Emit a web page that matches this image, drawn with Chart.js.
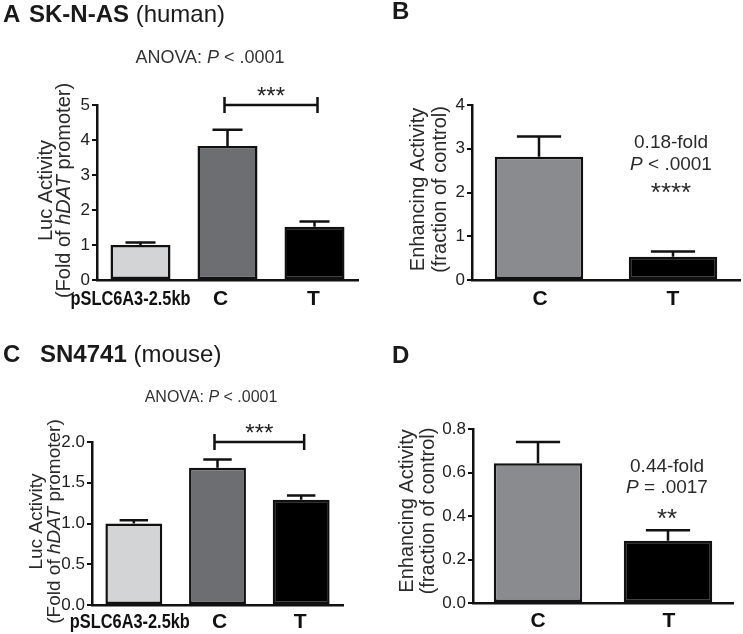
<!DOCTYPE html>
<html>
<head>
<meta charset="utf-8">
<script src="https://cdn.jsdelivr.net/npm/chart.js@4.4.1/dist/chart.umd.min.js"></script>
<style>
  body { margin: 0; background: #fff; width: 743px; height: 634px; position: relative; overflow: hidden; }
  canvas { position: absolute; }
</style>
</head>
<body>
<canvas id="chartA" width="370" height="317" style="left:0;top:0"></canvas>
<canvas id="chartB" width="373" height="317" style="left:370px;top:0"></canvas>
<canvas id="chartC" width="370" height="317" style="left:0;top:317px"></canvas>
<canvas id="chartD" width="373" height="317" style="left:370px;top:317px"></canvas>
<script>
const FONT = '"Liberation Sans", Arial, Helvetica, sans-serif';

// Categories
const labelsLuc = ['pSLC6A3-2.5kb', 'C', 'T'];
const labelsEnh = ['C', 'T'];

// A: SK-N-AS (human) - luciferase activity (mean, SEM)
const humanLuc = [1.0, 3.83, 1.52];
const humanLucSem = [0.07, 0.46, 0.15];

// B: SK-N-AS enhancing activity
const humanEnh = [2.82, 0.53];
const humanEnhSem = [0.46, 0.12];

// C: SN4741 (mouse) - luciferase activity
const mouseLuc = [1.0, 1.685, 1.29];
const mouseLucSem = [0.04, 0.1, 0.055];

// D: SN4741 enhancing activity
const mouseEnh = [0.643, 0.286];
const mouseEnhSem = [0.097, 0.049];

// Tick labels (y axes)
const ticksA = [0, 1, 2, 3, 4, 5];
const ticksB = [0, 1, 2, 3, 4];
const ticksC = [0, 0.5, 1.0, 1.5, 2.0];
const ticksD = [0, 0.2, 0.4, 0.6, 0.8];

// Colours
const lucColors = ['#d3d4d6', '#6d6e71', '#000000'];
const enhColors = ['#8a8b8e', '#000000'];

// Helper: draw a run of text pieces ([text, 'i'|'b'|''])
function fontFor(style, size) {
    if (style === 'i') return `italic ${size}px ${FONT}`;
    if (style === 'b') return `bold ${size}px ${FONT}`;
    return `${size}px ${FONT}`;
}
function richWidth(ctx, parts, size) {
    let w = 0;
    parts.forEach(p => {
        ctx.font = fontFor(p[1], size);
        w += ctx.measureText(p[0]).width;
    });
    return w;
}
function drawRich(ctx, parts, x, y, size) {
    // x = centre of the run, y = baseline
    let cx = x - richWidth(ctx, parts, size) / 2;
    ctx.textAlign = 'left';
    ctx.textBaseline = 'alphabetic';
    parts.forEach(p => {
        ctx.font = fontFor(p[1], size);
        ctx.fillText(p[0], cx, y);
        cx += ctx.measureText(p[0]).width;
    });
}
function drawStars(ctx, text, x, cy, size) {
    ctx.font = `${size}px ${FONT}`;
    ctx.textAlign = 'center';
    ctx.textBaseline = 'alphabetic';
    ctx.fillText(text, x, cy + size * 0.585);
}

// Plugin: error bars, titles, axis labels, significance marks
const decorPlugin = {
    id: 'decor',
    afterDatasetsDraw(chart, args, opt) {
        const ctx = chart.ctx;
        const y = chart.scales.y;
        const meta = chart.getDatasetMeta(0);
        const vals = chart.data.datasets[0].data;
        ctx.save();
        ctx.strokeStyle = '#111';
        ctx.lineWidth = 2.5;
        meta.data.forEach((bar, i) => {
            const top = y.getPixelForValue(vals[i] + opt.sem[i]);
            const half = bar.width / 4;
            ctx.beginPath();
            ctx.moveTo(bar.x, bar.y);
            ctx.lineTo(bar.x, top);
            ctx.moveTo(bar.x - half, top);
            ctx.lineTo(bar.x + half, top);
            ctx.stroke();
        });
        ctx.restore();
    },
    afterDraw(chart, args, opt) {
        const ctx = chart.ctx;
        const area = chart.chartArea;
        const meta = chart.getDatasetMeta(0);
        ctx.save();

        // panel title
        const t = opt.title;
        ctx.fillStyle = '#1a1a1a';
        ctx.textBaseline = 'alphabetic';
        ctx.textAlign = 'left';
        ctx.font = `bold 24px ${FONT}`;
        ctx.fillText(t.letter, t.letterX, t.y);
        if (t.main) {
            ctx.fillText(t.main, t.mainX, t.y);
            const w = ctx.measureText(t.main).width;
            ctx.font = `24px ${FONT}`;
            ctx.fillText(t.sub, t.mainX + w, t.y);
        }

        // category labels under the x axis (bold)
        const xl = opt.xLabels;
        ctx.fillStyle = '#111';
        ctx.textAlign = 'center';
        ctx.font = `bold 21px ${FONT}`;
        chart.data.labels.forEach((lab, i) => {
            const lx = meta.data[i].x + xl.dx[i];
            if (lab.length > 2) {
                ctx.fillText(lab, lx, xl.y, xl.longWidth);
            } else {
                ctx.fillText(lab, lx, xl.y);
            }
        });

        // y axis title (two rotated lines)
        ctx.fillStyle = '#2a2a2a';
        const yt = opt.yTitle;
        const cy = (area.top + area.bottom) / 2 + yt.dy;
        yt.lines.forEach((parts, k) => {
            ctx.save();
            ctx.translate(yt.x[k], cy);
            ctx.rotate(-Math.PI / 2);
            drawRich(ctx, parts, 0, 0, yt.size);
            ctx.restore();
        });

        // ANOVA text
        if (opt.anova) {
            ctx.fillStyle = '#333';
            drawRich(ctx, [['ANOVA: '], ['P', 'i'], [' < .0001']], opt.anova.x, opt.anova.y, opt.anova.size);
        }

        // bracket with stars
        if (opt.bracket) {
            const b = opt.bracket;
            const x1 = meta.data[b.from].x - 3;
            const x2 = meta.data[b.to].x + 3;
            const by = chart.scales.y.getPixelForValue(b.value);
            ctx.strokeStyle = '#111';
            ctx.lineWidth = 2.5;
            ctx.beginPath();
            ctx.moveTo(x1, by); ctx.lineTo(x2, by);
            ctx.moveTo(x1, by - 8); ctx.lineTo(x1, by + 8);
            ctx.moveTo(x2, by - 8); ctx.lineTo(x2, by + 8);
            ctx.stroke();
            ctx.fillStyle = '#222';
            drawStars(ctx, b.stars, (x1 + x2) / 2, b.starsY, 24);
        }

        // fold / P value note
        if (opt.note) {
            const n = opt.note;
            const nx = meta.data[n.bar].x + n.dx;
            ctx.fillStyle = '#2a2a2a';
            drawRich(ctx, n.line1, nx, n.y1, 19);
            drawRich(ctx, n.line2, nx, n.y2, 19);
            drawStars(ctx, n.stars, nx, n.starsY, 26);
        }
        ctx.restore();
    }
};

function makeChart(id, labels, values, colors, ticks, decimals, box, decor) {
    return new Chart(document.getElementById(id), {
        type: 'bar',
        data: {
            labels: labels,
            datasets: [{
                data: values,
                backgroundColor: colors,
                borderColor: '#111',
                borderWidth: 2.5,
                borderSkipped: false,
                barPercentage: box.bar,
                categoryPercentage: 1
            }]
        },
        options: {
            responsive: false,
            animation: false,
            layout: { padding: { top: box.top, right: box.right, left: 0, bottom: 0 } },
            plugins: {
                legend: { display: false },
                tooltip: { enabled: false },
                decor: decor
            },
            scales: {
                x: {
                    grid: { display: false, drawTicks: false },
                    border: { display: true, color: '#111', width: 2.5 },
                    ticks: { display: false },
                    afterFit: s => { s.height = box.xh; }
                },
                y: {
                    min: 0,
                    max: ticks[ticks.length - 1],
                    afterBuildTicks: s => { s.ticks = ticks.map(v => ({ value: v })); },
                    grid: { drawOnChartArea: false, drawTicks: true, tickLength: 5, color: '#111', lineWidth: 2 },
                    border: { display: true, color: '#111', width: 2.5 },
                    ticks: {
                        padding: 2,
                        color: '#222',
                        font: { family: FONT, size: 17 },
                        callback: v => Number(v).toFixed(decimals)
                    },
                    afterFit: s => { s.width = box.yw; }
                }
            }
        },
        plugins: [decorPlugin]
    });
}

const lucTitle = [[['Luc Activity']], [['(Fold of '], ['hDAT', 'i'], [' promoter)']]];
const enhTitle = [[['Enhancing Activity']], [['(fraction of control)']]];

makeChart('chartA', labelsLuc, humanLuc, lucColors, ticksA, 0,
    { yw: 97, top: 105, right: 12, xh: 37, bar: 0.69 },
    {
        sem: humanLucSem,
        title: { letter: 'A', letterX: 3, main: 'SK-N-AS', mainX: 29, sub: ' (human)', y: 22 },
        xLabels: { y: 305, dx: [-10, -7, -1], longWidth: 120 },
        yTitle: { lines: lucTitle, x: [52, 70], dy: -2, size: 20 },
        anova: { x: 210, y: 63, size: 18 },
        bracket: { from: 1, to: 2, value: 5, stars: '***', starsY: 90 }
    });

makeChart('chartB', labelsEnh, humanEnh, enhColors, ticksB, 0,
    { yw: 102, top: 105, right: 3, xh: 37, bar: 0.66 },
    {
        sem: humanEnhSem,
        title: { letter: 'B', letterX: 22, y: 19 },
        xLabels: { y: 305, dx: [1, 0] },
        yTitle: { lines: enhTitle, x: [54, 76], dy: -3, size: 20 },
        note: { bar: 1, dx: -2, line1: [['0.18-fold']], line2: [['P', 'i'], [' < .0001']], y1: 148, y2: 170, stars: '****', starsY: 186 }
    });

makeChart('chartC', labelsLuc, mouseLuc, lucColors, ticksC, 1,
    { yw: 92, top: 125, right: 27, xh: 29, bar: 0.68 },
    {
        sem: mouseLucSem,
        title: { letter: 'C', letterX: 3, main: 'SN4741', mainX: 40, sub: ' (mouse)', y: 45 },
        xLabels: { y: 311, dx: [-4, 2, -1], longWidth: 120 },
        yTitle: { lines: lucTitle, x: [42, 60], dy: -2, size: 19 },
        anova: { x: 211, y: 85, size: 16 },
        bracket: { from: 1, to: 2, value: 2.0, stars: '***', starsY: 110 }
    });

makeChart('chartD', labelsEnh, mouseEnh, enhColors, ticksD, 1,
    { yw: 103, top: 112, right: 10, xh: 31, bar: 0.68 },
    {
        sem: mouseEnhSem,
        title: { letter: 'D', letterX: 22, y: 46 },
        xLabels: { y: 310, dx: [0, 1] },
        yTitle: { lines: enhTitle, x: [43, 64], dy: -5, size: 20 },
        note: { bar: 1, dx: -1, line1: [['0.44-fold']], line2: [['P', 'i'], [' = .0017']], y1: 155, y2: 176, stars: '**', starsY: 195 }
    });
</script>
</body>
</html>
